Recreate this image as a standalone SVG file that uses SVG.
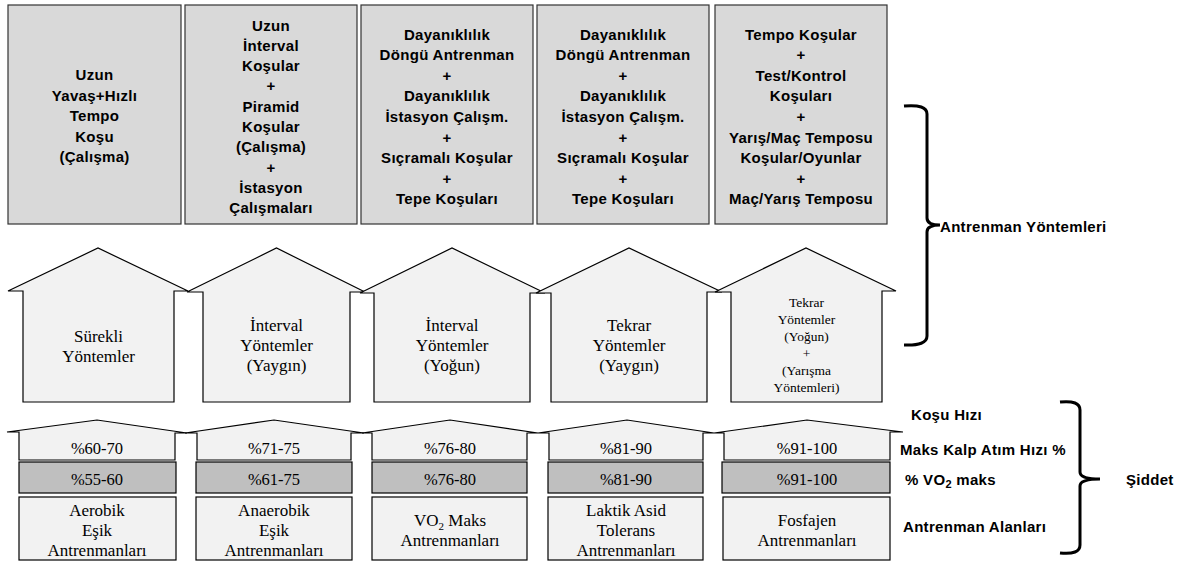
<svg xmlns="http://www.w3.org/2000/svg" width="1184" height="562" viewBox="0 0 1184 562">
<style>
.box{fill:#d9d9d9;stroke:#333;stroke-width:1.2}
.house{fill:#f2f2f2;stroke:#000;stroke-width:1.2}
.gray{fill:#bfbfbf;stroke:#000;stroke-width:1.2}
.bt{font-family:"Liberation Sans",Arial,sans-serif;font-weight:bold;font-size:15px;letter-spacing:0.3px;fill:#000;text-anchor:middle}
.lb{font-family:"Liberation Sans",Arial,sans-serif;font-weight:bold;font-size:15px;letter-spacing:0.3px;fill:#000}
.st{font-family:"Liberation Serif","Times New Roman",serif;font-size:17px;fill:#000;text-anchor:middle}
.ss{font-family:"Liberation Serif","Times New Roman",serif;font-size:13.5px;fill:#000;text-anchor:middle}
.pt{font-family:"Liberation Serif","Times New Roman",serif;font-size:16.5px;fill:#000;text-anchor:middle}
.br{fill:none;stroke:#000;stroke-width:3}
</style>

<g id="top1"><rect class="box" x="8" y="5" width="173" height="219"/>
<text class="bt"><tspan x="94.5" y="80">Uzun</tspan><tspan x="94.5" y="100.5">Yavaş+Hızlı</tspan><tspan x="94.5" y="121">Tempo</tspan><tspan x="94.5" y="141.5">Koşu</tspan><tspan x="94.5" y="162">(Çalışma)</tspan></text></g>

<g id="top2"><rect class="box" x="185" y="5" width="172" height="219"/>
<text class="bt"><tspan x="271" y="30.5">Uzun</tspan><tspan x="271" y="50.8">İnterval</tspan><tspan x="271" y="71.1">Koşular</tspan><tspan x="271" y="91.4">+</tspan><tspan x="271" y="111.7">Piramid</tspan><tspan x="271" y="132">Koşular</tspan><tspan x="271" y="152.3">(Çalışma)</tspan><tspan x="271" y="172.6">+</tspan><tspan x="271" y="192.9">İstasyon</tspan><tspan x="271" y="213.2">Çalışmaları</tspan></text></g>

<g id="top3"><rect class="box" x="361" y="5" width="172" height="219"/>
<text class="bt"><tspan x="447" y="39.5">Dayanıklılık</tspan><tspan x="447" y="60.1">Döngü Antrenman</tspan><tspan x="447" y="80.7">+</tspan><tspan x="447" y="101.3">Dayanıklılık</tspan><tspan x="447" y="121.9">İstasyon Çalışm.</tspan><tspan x="447" y="142.5">+</tspan><tspan x="447" y="163.1">Sıçramalı Koşular</tspan><tspan x="447" y="183.7">+</tspan><tspan x="447" y="204.3">Tepe Koşuları</tspan></text></g>

<g id="top4"><rect class="box" x="537" y="5" width="172" height="219"/>
<text class="bt"><tspan x="623" y="39.5">Dayanıklılık</tspan><tspan x="623" y="60.1">Döngü Antrenman</tspan><tspan x="623" y="80.7">+</tspan><tspan x="623" y="101.3">Dayanıklılık</tspan><tspan x="623" y="121.9">İstasyon Çalışm.</tspan><tspan x="623" y="142.5">+</tspan><tspan x="623" y="163.1">Sıçramalı Koşular</tspan><tspan x="623" y="183.7">+</tspan><tspan x="623" y="204.3">Tepe Koşuları</tspan></text></g>

<g id="top5"><rect class="box" x="715" y="5" width="172" height="219"/>
<text class="bt"><tspan x="801" y="39.5">Tempo Koşular</tspan><tspan x="801" y="60.1">+</tspan><tspan x="801" y="80.7">Test/Kontrol</tspan><tspan x="801" y="101.3">Koşuları</tspan><tspan x="801" y="121.9">+</tspan><tspan x="801" y="142.5">Yarış/Maç Temposu</tspan><tspan x="801" y="163.1">Koşular/Oyunlar</tspan><tspan x="801" y="183.7">+</tspan><tspan x="801" y="204.3">Maç/Yarış Temposu</tspan></text></g>

<g id="house1"><polygon class="house" points="8,291 98,248 188,291 174,291 174,402 23,402 23,291"/>
<text class="st"><tspan x="98.5" y="341.5">Sürekli</tspan><tspan x="98.5" y="361.5">Yöntemler</tspan></text></g>
<g id="house2"><polygon class="house" points="187,292 276.5,248 365,292 350,292 350,402 203,402 203,292"/>
<text class="st"><tspan x="276.5" y="331">İnterval</tspan><tspan x="276.5" y="351">Yöntemler</tspan><tspan x="276.5" y="371">(Yaygın)</tspan></text></g>
<g id="house3"><polygon class="house" points="360,293 452,248 545,293 530,293 530,402 374,402 374,293"/>
<text class="st"><tspan x="452" y="331">İnterval</tspan><tspan x="452" y="351">Yöntemler</tspan><tspan x="452" y="371">(Yoğun)</tspan></text></g>
<g id="house4"><polygon class="house" points="536,293 629,248 722,292 707,292 707,402 551,402 551,293"/>
<text class="st"><tspan x="629" y="331">Tekrar</tspan><tspan x="629" y="351">Yöntemler</tspan><tspan x="629" y="371">(Yaygın)</tspan></text></g>
<g id="house5"><polygon class="house" points="715,292 806,248 896,291 882,291 882,402 731,402 731,292"/>
<text class="ss"><tspan x="806.5" y="307">Tekrar</tspan><tspan x="806.5" y="324">Yöntemler</tspan><tspan x="806.5" y="341">(Yoğun)</tspan><tspan x="806.5" y="358">+</tspan><tspan x="806.5" y="375">(Yarışma</tspan><tspan x="806.5" y="392">Yöntemleri)</tspan></text></g>

<g id="col1"><polygon class="house" points="7,432 97,420 187,433 175,433 175,460 19,460 19,432"/>
<text class="pt" x="97" y="454">%60-70</text>
<rect class="gray" x="19" y="462" width="157" height="31"/><text class="pt" x="97" y="485">%55-60</text>
<rect class="house" x="19" y="497" width="157" height="63"/>
<text class="st"><tspan x="97" y="516">Aerobik</tspan><tspan x="97" y="536">Eşik</tspan><tspan x="97" y="556">Antrenmanları</tspan></text></g>

<g id="col2"><polygon class="house" points="185,433 274,420 364,433 351,433 351,460 197,460 197,433"/>
<text class="pt" x="274" y="454">%71-75</text>
<rect class="gray" x="196" y="462" width="156" height="31"/><text class="pt" x="274" y="485">%61-75</text>
<rect class="house" x="196" y="497" width="156" height="63"/>
<text class="st"><tspan x="274" y="516">Anaerobik</tspan><tspan x="274" y="536">Eşik</tspan><tspan x="274" y="556">Antrenmanları</tspan></text></g>

<g id="col3"><polygon class="house" points="362,433 450,420 538,433 527,433 527,460 372,460 372,433"/>
<text class="pt" x="450" y="454">%76-80</text>
<rect class="gray" x="372" y="462" width="155" height="31"/><text class="pt" x="450" y="485">%76-80</text>
<rect class="house" x="372" y="497" width="155" height="63"/>
<text class="st"><tspan x="450" y="526">VO<tspan font-size="11" dy="4">2</tspan><tspan dy="-4"> Maks</tspan></tspan><tspan x="450" y="546">Antrenmanları</tspan></text></g>

<g id="col4"><polygon class="house" points="538,433 627,420 714,433 703,433 703,460 549,460 549,433"/>
<text class="pt" x="626" y="454">%81-90</text>
<rect class="gray" x="548" y="462" width="155" height="31"/><text class="pt" x="626" y="485">%81-90</text>
<rect class="house" x="548" y="497" width="155" height="63"/>
<text class="st"><tspan x="626" y="516">Laktik Asid</tspan><tspan x="626" y="536">Tolerans</tspan><tspan x="626" y="556">Antrenmanları</tspan></text></g>

<g id="col5"><polygon class="house" points="714,433 807,420 903,432 890,432 890,460 724,460 724,433"/>
<text class="pt" x="807" y="454">%91-100</text>
<rect class="gray" x="722" y="462" width="168" height="31"/><text class="pt" x="807" y="485">%91-100</text>
<rect class="house" x="723" y="497" width="167" height="63"/>
<text class="st"><tspan x="807" y="526">Fosfajen</tspan><tspan x="807" y="546">Antrenmanları</tspan></text></g>

<g id="connectors">
<path class="br" d="M904,106 Q927,104 927,114 L927,218 Q927,225 940,225 Q927,225 927,232 L927,336 Q927,346 904,345"/>
<path class="br" d="M1060,402 Q1080,400 1080,410 L1080,472 Q1080,479 1100,479 Q1080,479 1080,486 L1080,545 Q1080,555 1060,553"/>
</g>

<g id="labels">
<text class="lb" x="940" y="232">Antrenman Yöntemleri</text>
<text class="lb" x="911" y="420">Koşu Hızı</text>
<text class="lb" x="900" y="455">Maks Kalp Atım Hızı %</text>
<text class="lb" x="905" y="485">% VO<tspan font-size="11" dy="3">2</tspan><tspan dy="-3"> maks</tspan></text>
<text class="lb" x="903" y="532">Antrenman Alanları</text>
<text class="lb" x="1126" y="485">Şiddet</text>
</g>
</svg>
